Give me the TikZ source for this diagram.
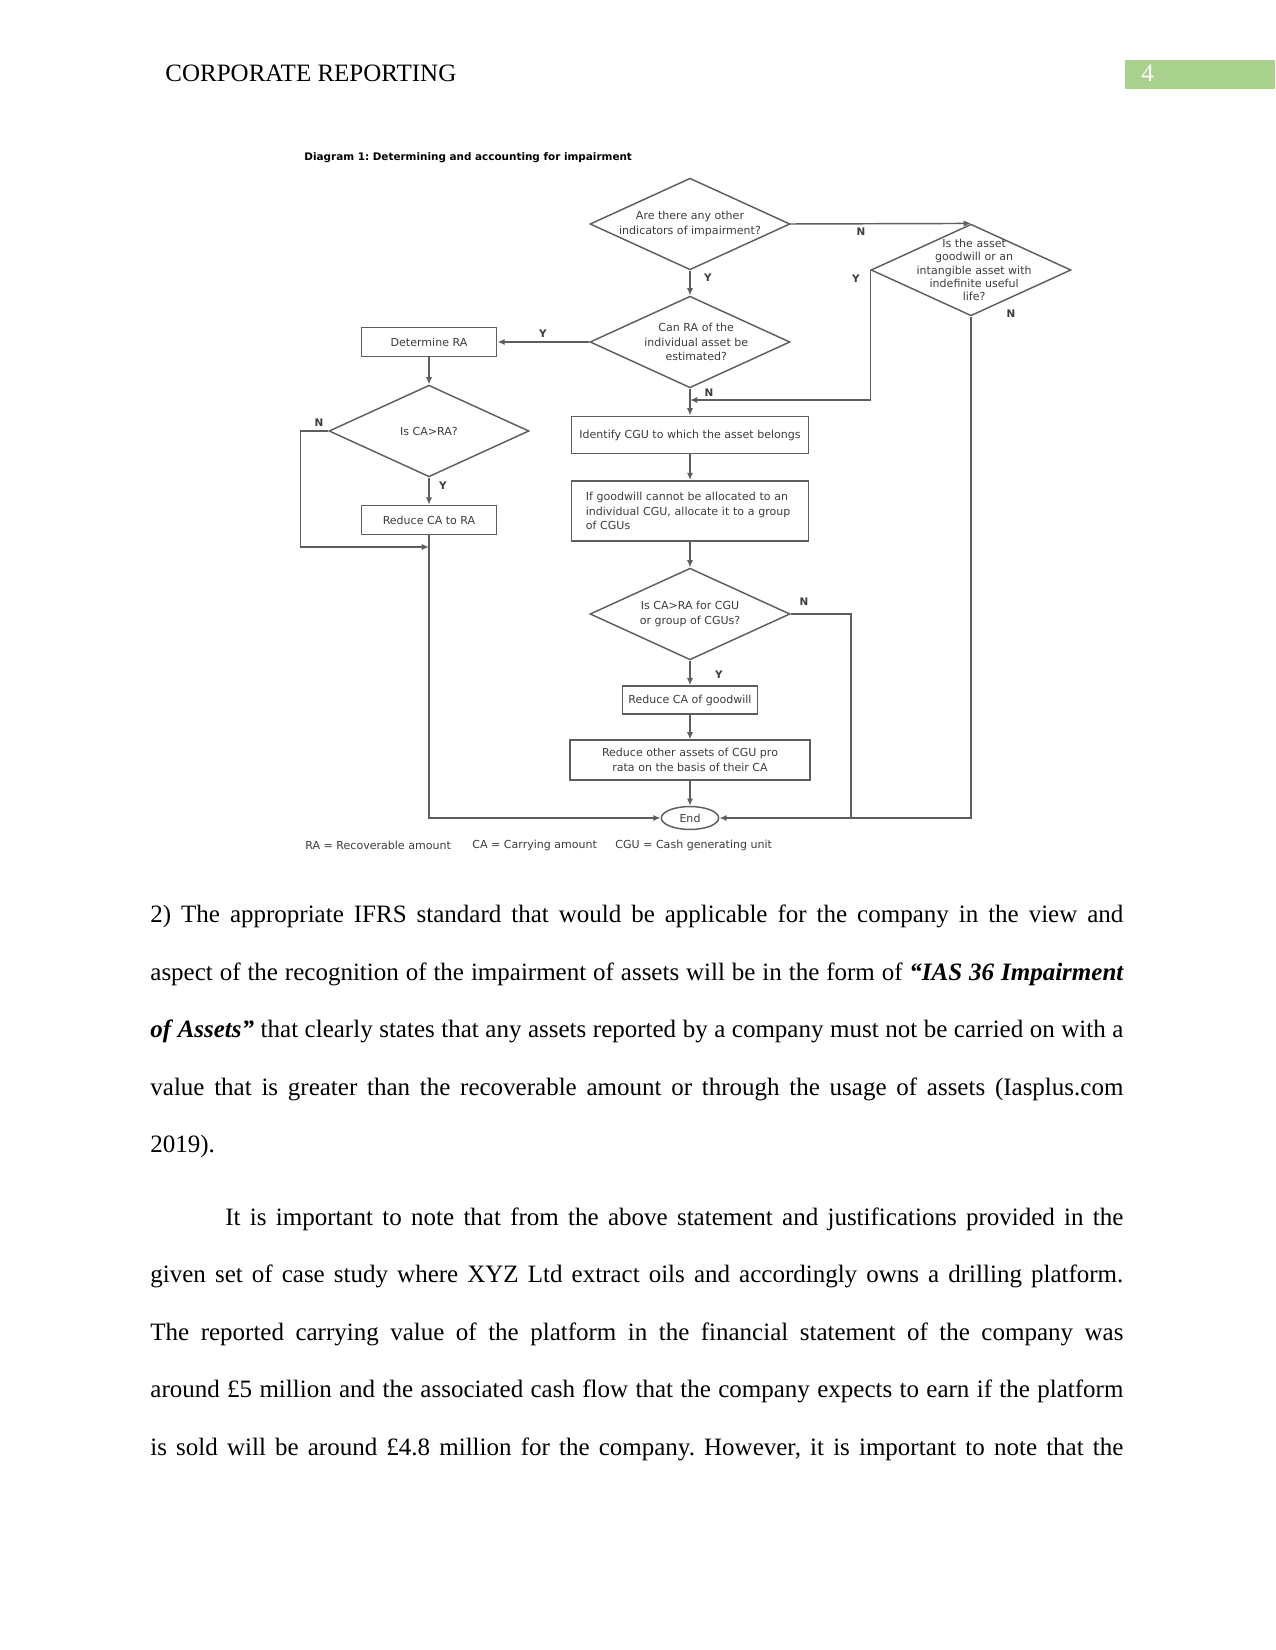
\documentclass[tikz,border=0pt]{standalone}
\usepackage{fontspec}
\setmainfont{Liberation Serif}
\newfontfamily\schema{DejaVu Sans}
\usetikzlibrary{arrows.meta, shapes.geometric}
\definecolor{filet}{HTML}{5E5E5E}
\definecolor{texte}{HTML}{3C3C3C}
\definecolor{vertpage}{HTML}{A9D18E}
\frenchspacing

\begin{document}
\begin{tikzpicture}[
  x=0.48pt, y=-0.48pt,
  font=\schema\fontsize{5.3}{6.9}\selectfont,
  cadre/.style={draw=filet, line width=0.7pt, text=texte, align=center, inner sep=1pt},
  bloc/.style={cadre, rectangle},
  choix/.style={cadre, diamond, minimum width=96pt, minimum height=44pt, inner sep=0pt},
  terminal/.style={cadre, ellipse, minimum width=27.5pt, minimum height=11pt},
  txtchoix/.style={text=texte, align=center, inner sep=0pt},
  rep/.style={font=\schema\bfseries\fontsize{5}{6}\selectfont, text=texte, inner sep=0pt},
  legende/.style={anchor=west, text=texte, inner sep=0pt},
  fl/.style={-{Latex[length=3.5pt, width=3pt]}, filet, line width=0.7pt},
  trait/.style={filet, line width=0.7pt},
  corps/.style={font={\fontsize{12}{27.6}\selectfont\hyphenpenalty=10000\tolerance=9999},
                text width=467pt, align=justify, inner sep=0pt, anchor=base west},
  entete/.style={font=\fontsize{12}{14}\selectfont, inner sep=0pt, anchor=base west},
]
\useasboundingbox (0,0) rectangle (1275,1650);
% en-tete de page
\node[entete] (titrepage) at (165,82) {CORPORATE REPORTING};
\fill[vertpage] (1125,60) rectangle (1275,89);
\node[entete, text=white] (numpage) at (1141,82) {4};
% le schema
\node[anchor=west, inner sep=0pt, font=\schema\bfseries\fontsize{5}{6}\selectfont] (titre) at (304,158)
  {Diagram 1: Determining and accounting for impairment};
% colonne centrale
\node[choix] (q1) at (690,224) {};
\node[txtchoix, font=\schema\fontsize{5.3}{7.4}\selectfont] (q1t) at (q1) {Are there any other\\indicators of impairment?};
\node[choix] (q2) at (690,342) {};
\node[txtchoix] (q2t) at ([xshift=3pt]q2) {Can RA of the\\individual asset be\\estimated?};
\node[choix] (q3) at (971,270) {};
\node[txtchoix, font=\schema\fontsize{5.3}{6.4}\selectfont] (q3t) at ([xshift=1.5pt]q3) {Is the asset\\goodwill or an\\intangible asset with\\indefinite useful\\life?};
\node[bloc, minimum width=114pt, minimum height=18pt] (idcgu) at (690,435) {Identify CGU to which the asset belongs};
\node[bloc, minimum width=114pt, minimum height=29pt, text width=100pt, align=left] (alloc) at (690,511)
  {If goodwill cannot be allocated to an\\individual CGU, allocate it to a group\\of CGUs};
\node[choix] (q5) at (690,614) {};
\node[txtchoix] (q5t) at (q5) {Is CA>RA for CGU\\or group of CGUs?};
\node[bloc, minimum width=65pt, minimum height=13.5pt] (redgw) at (690,700) {Reduce CA of goodwill};
\node[bloc, minimum width=115pt, minimum height=19pt] (redautres) at (690,760) {Reduce other assets of CGU pro\\rata on the basis of their CA};
\node[terminal] (fin) at (690,818) {End};
% colonne de gauche
\node[bloc, minimum width=65pt, minimum height=14pt] (detra) at (429,342) {Determine RA};
\node[choix] (q4) at (429,431) {};
\node[txtchoix] (q4t) at (q4) {Is CA>RA?};
\node[bloc, minimum width=65pt, minimum height=14pt] (redra) at (429,520) {Reduce CA to RA};
% points de jonction
\coordinate (jq3) at (690,400);
\coordinate (jq4) at (429,547);
\coordinate (jfin) at (851,818);
% flux
\draw[fl] (q1.south) -- (q2.north);
\draw[fl] (q1.east) -- (q3.north);
\draw[fl] (q3.west) |- (jq3);
\draw[trait] (q3.south) |- (jfin);
\draw[fl] (q2.south) -- (idcgu.north);
\draw[fl] (q2.west) -- (detra.east);
\draw[fl] (detra.south) -- (q4.north);
\draw[fl] (q4.south) -- (redra.north);
\draw[fl] (q4.west) -- ++(-28,0) |- (jq4);
\draw[fl] (redra.south) |- (fin.west);
\draw[fl] (idcgu.south) -- (alloc.north);
\draw[fl] (alloc.south) -- (q5.north);
\draw[fl] (q5.south) -- (redgw.north);
\draw[fl] (redgw.south) -- (redautres.north);
\draw[fl] (redautres.south) -- (fin.north);
\draw[fl] (q5.east) -| (jfin) -- (fin.east);
% reponses
\node[rep] (r1) at (708,278) {Y};
\node[rep] (r2) at (861,232) {N};
\node[rep] (r3) at (856,279) {Y};
\node[rep] (r4) at (1011,314) {N};
\node[rep] (r5) at (709,393) {N};
\node[rep] (r6) at (543,334) {Y};
\node[rep] (r7) at (319,423) {N};
\node[rep] (r8) at (443,486) {Y};
\node[rep] (r9) at (804,602) {N};
\node[rep] (r10) at (719,675) {Y};
% legende
\node[legende] (lra) at (305,845) {RA = Recoverable amount};
\node[legende] (lca) at (472,845) {CA = Carrying amount};
\node[legende] (lcgu) at (615,845) {CGU = Cash generating unit};
% texte courant
\node[corps] (par1) at (150,922.7)
  {2) The appropriate IFRS standard that would be applicable for the company in the view and\linebreak
   aspect of the recognition of the impairment of assets will be in the form of \textbf{\textit{“IAS 36 Impairment\linebreak
   of Assets”}} that clearly states that any assets reported by a company must not be carried on with a\linebreak
   value that is greater than the recoverable amount or through the usage of assets (Iasplus.com\linebreak
   2019).};
\node[corps] (par2) at (150,1225)
  {\parfillskip=0pt\hspace*{36pt}It is important to note that from the above statement and justifications provided in the\linebreak
   given set of case study where XYZ Ltd extract oils and accordingly owns a drilling platform.\linebreak
   The reported carrying value of the platform in the financial statement of the company was\linebreak
   around £5 million and the associated cash flow that the company expects to earn if the platform\linebreak
   is sold will be around £4.8 million for the company. However, it is important to note that the\par};
\end{tikzpicture}
\end{document}
